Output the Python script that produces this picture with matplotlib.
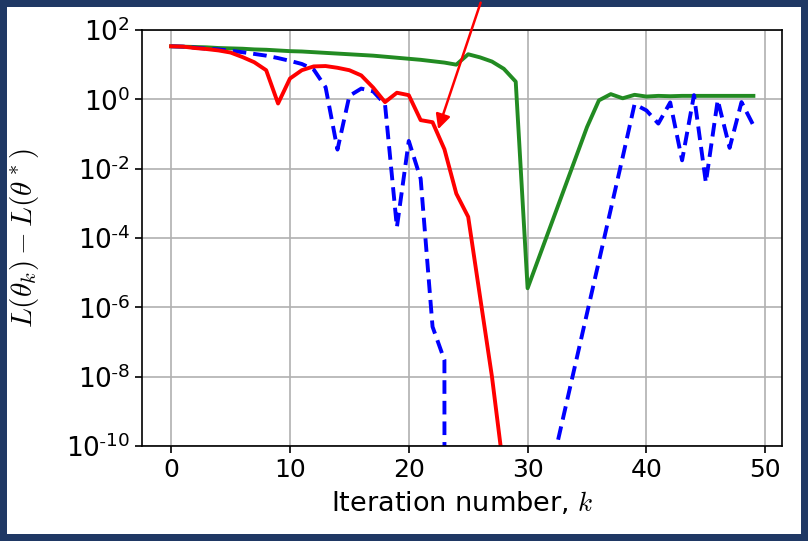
import numpy as np
import matplotlib.pyplot as plt
from matplotlib.patches import Rectangle
from matplotlib.ticker import FuncFormatter

plt.rcParams['mathtext.fontset'] = 'cm'

k = np.arange(50)

# log10 of the optimality gap L(theta_k) - L(theta*) for each method
# (-inf marks iterations where the gap is exactly zero)
red_exp = [1.53, 1.52, 1.48, 1.45, 1.41, 1.35, 1.22, 1.07, 0.84, -0.12,
           0.60, 0.84, 0.95, 0.96, 0.91, 0.84, 0.69, 0.34, -0.08, 0.19,
           0.12, -0.60, -0.66, -1.44, -2.72, -3.39, -5.70, -8.00, -10.75] + [-np.inf] * 21
blue_exp = [1.53, 1.52, 1.49, 1.46, 1.44, 1.40, 1.36, 1.31, 1.26, 1.19,
            1.11, 1.02, 0.86, 0.35, -1.45, 0.10, 0.31, 0.23, -0.14, -3.69,
            -1.20, -2.29, -6.56, -7.52] + [-np.inf] * 8 + \
           [-10.67, -9.17, -7.67, -6.17, -4.67, -3.17, -1.67, -0.14,
            -0.32, -0.70, -0.09, -1.76, 0.12, -2.40, -0.02, -1.40, -0.08, -0.75]
green_exp = [1.53, 1.52, 1.51, 1.50, 1.48, 1.47, 1.46, 1.44, 1.43, 1.41,
             1.39, 1.38, 1.36, 1.34, 1.32, 1.30, 1.28, 1.26, 1.23, 1.20,
             1.17, 1.14, 1.10, 1.06, 1.00, 1.30, 1.21, 1.09, 0.88, 0.51,
             -5.45, -4.52, -3.59, -2.66, -1.73, -0.80, -0.03, 0.15, 0.03, 0.13,
             0.08, 0.10, 0.09, 0.10, 0.10, 0.10, 0.10, 0.10, 0.10, 0.10]

red = 10.0 ** np.array(red_exp)
blue = 10.0 ** np.array(blue_exp)
green = 10.0 ** np.array(green_exp)

fig = plt.figure(figsize=(8.08, 5.41), dpi=100)
fig.patch.set_facecolor('#1f3864')
b = 7  # frame width in pixels
fig.add_artist(Rectangle((b / 808, b / 541), 1 - 2 * b / 808, 1 - 2 * b / 541,
                         transform=fig.transFigure, facecolor='white',
                         edgecolor='none', zorder=-1))

ax = fig.add_axes([142 / 808, 1 - 446 / 541, (782.5 - 142) / 808, (446 - 30) / 541])

ax.plot(k, green, color='forestgreen', lw=2.8)
ax.plot(k, blue, color='blue', lw=2.8, ls='--', dashes=(3.5, 1.8))
ax.plot(k, red, color='red', lw=2.8)

ax.set_yscale('log')
ax.set_ylim(1e-10, 1e2)
ax.set_xlim(-2.45, 51.45)
ax.set_xticks([0, 10, 20, 30, 40, 50])
ax.set_yticks([1e2, 1e0, 1e-2, 1e-4, 1e-6, 1e-8, 1e-10])
ax.yaxis.set_minor_locator(plt.NullLocator())


def pow_label(v, pos):
    e = int(round(np.log10(v)))
    if e < 0:
        return r'$\mathdefault{10^{\text{-}%d}}$' % (-e)
    return r'$\mathdefault{10^{%d}}$' % e


ax.yaxis.set_major_formatter(FuncFormatter(pow_label))
ax.tick_params(labelsize=18, length=5, width=1.2)
ax.tick_params(axis='y', labelsize=19)
ax.grid(True, color='#b0b0b0', lw=1.2)
for s in ax.spines.values():
    s.set_linewidth(1.2)

ax.set_xlabel('Iteration number, $k$', fontsize=19.5, labelpad=6)
ax.set_ylabel(r'$L(\theta_k) - L(\theta^*)$', fontsize=21)
ax.yaxis.set_label_coords(-0.157, 0.5)

# pointer to the red curve
ax.annotate('', xy=(22.4, 10 ** -0.94), xytext=(481.5 / 808, 1.0),
            textcoords='figure fraction', annotation_clip=False,
            arrowprops=dict(arrowstyle='-|>', color='red', lw=1.8,
                            mutation_scale=22))

fig.savefig('out.png', dpi=100, facecolor=fig.get_facecolor())
